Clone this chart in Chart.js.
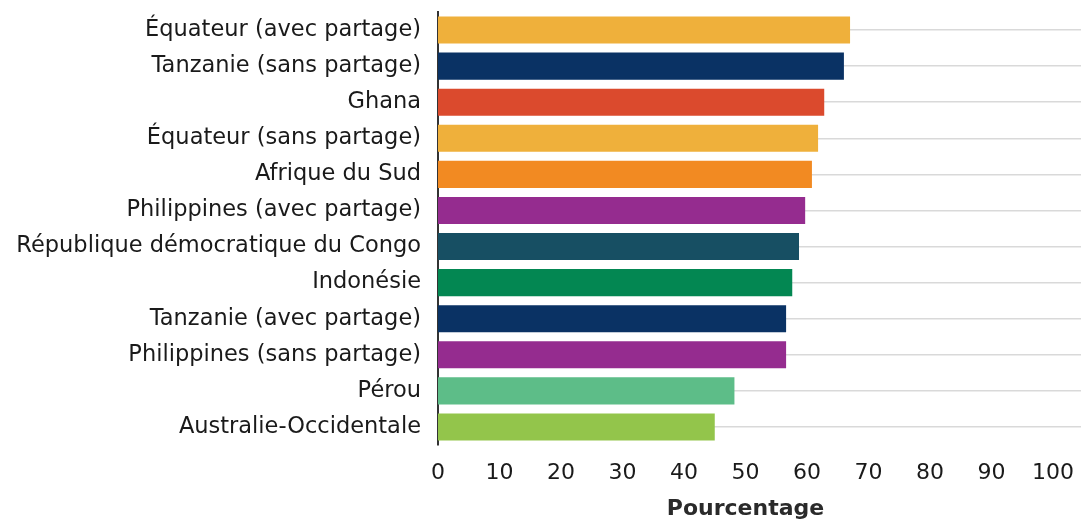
<!DOCTYPE html>
<html>
<head>
<meta charset="utf-8">
<script src="https://cdn.jsdelivr.net/npm/chart.js@4.4.1/dist/chart.umd.min.js"></script>
<style>
  html, body { margin: 0; padding: 0; background: #ffffff; }
  #wrap { width: 1087px; height: 521px; position: relative; }
</style>
</head>
<body>
<div id="wrap"><canvas id="c" width="1087" height="521"></canvas></div>
<script>
const categories = [
  "Équateur (avec partage)",
  "Tanzanie (sans partage)",
  "Ghana",
  "Équateur (sans partage)",
  "Afrique du Sud",
  "Philippines (avec partage)",
  "République démocratique du Congo",
  "Indonésie",
  "Tanzanie (avec partage)",
  "Philippines (sans partage)",
  "Pérou",
  "Australie-Occidentale"
];
const values = [67.0, 66.0, 62.8, 61.8, 60.8, 59.7, 58.7, 57.6, 56.6, 56.6, 48.2, 45.0];
const barColors = [
  "#EFB03B", "#0A3264", "#DB4A2D", "#EFB03B", "#F28A22", "#952C8F",
  "#174F63", "#038752", "#0A3264", "#952C8F", "#5DBD88", "#93C54B"
];
const xTickValues = [0, 10, 20, 30, 40, 50, 60, 70, 80, 90, 100];
const xTitle = "Pourcentage";

const FONT = "'DejaVu Sans', sans-serif";
const TEXT = "#1a1a1a";

const xTitlePlugin = {
  id: 'xTitlePlugin',
  afterDraw(chart) {
    const x = chart.scales.x;
    const ctx = chart.ctx;
    ctx.save();
    ctx.font = "bold 22px " + FONT;
    ctx.fillStyle = "#2a2a2a";
    ctx.textAlign = "center";
    ctx.textBaseline = "alphabetic";
    ctx.fillText(xTitle, x.getPixelForValue((xTickValues[0] + xTickValues[xTickValues.length - 1]) / 2), x.bottom - 6);
    ctx.restore();
  }
};

new Chart(document.getElementById('c'), {
  type: 'bar',
  data: {
    labels: categories,
    datasets: [{
      data: values,
      backgroundColor: barColors,
      borderWidth: 0,
      barPercentage: 0.75,
      categoryPercentage: 1.0
    }]
  },
  options: {
    indexAxis: 'y',
    responsive: false,
    animation: false,
    devicePixelRatio: 1,
    layout: { padding: { top: 12, right: 6, left: 0, bottom: 0 } },
    plugins: { legend: { display: false }, tooltip: { enabled: false } },
    scales: {
      x: {
        type: 'linear',
        min: 0,
        max: 104.55,
        afterBuildTicks(scale) {
          scale.ticks = xTickValues.map(v => ({ value: v }));
        },
        afterFit(scale) { scale.height = 76; scale.paddingLeft = 0; scale.paddingRight = 0; },
        grid: { display: false, drawTicks: false },
        border: { display: false },
        ticks: {
          padding: 15,
          color: TEXT,
          font: { family: FONT, size: 22 },
          maxRotation: 0,
          autoSkip: false
        },
        title: { display: false }
      },
      y: {
        type: 'category',
        afterFit(scale) { scale.width = 438; scale.paddingTop = 0; scale.paddingBottom = 0; },
        grid: {
          display: true,
          offset: false,
          drawTicks: false,
          color: "#d9d9d9",
          lineWidth: 1.5
        },
        border: { display: true, color: "#333333", width: 2 },
        ticks: {
          padding: 17,
          color: TEXT,
          font: { family: FONT, size: 22.5 },
          autoSkip: false
        }
      }
    }
  },
  plugins: [xTitlePlugin]
});
</script>
</body>
</html>
